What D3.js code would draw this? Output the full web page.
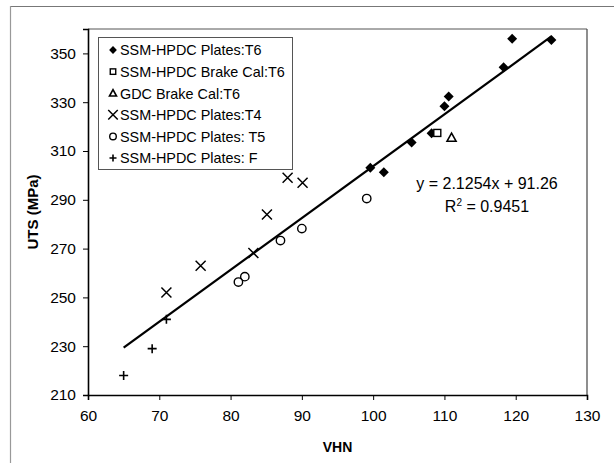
<!DOCTYPE html>
<html><head><meta charset="utf-8">
<script src="https://cdn.jsdelivr.net/npm/d3@7"></script>
<style>body{margin:0;background:#fff}svg{display:block}text{font-family:"Liberation Sans",Arial,sans-serif;fill:#000}</style>
</head><body>
<script>
// ---- data ----
const seriesNames = ["SSM-HPDC Plates:T6","SSM-HPDC Brake Cal:T6","GDC Brake Cal:T6","SSM-HPDC Plates:T4","SSM-HPDC Plates: T5","SSM-HPDC Plates: F"];
const t6PlatesVHN = [119.5, 125.0, 118.3, 110.6, 110.0, 105.4, 99.6, 101.5, 108.2];
const t6PlatesUTS = [356.0, 355.5, 344.3, 332.3, 328.3, 313.5, 303.1, 301.3, 317.3];
const brakeCalT6VHN = [109.0];
const brakeCalT6UTS = [317.4];
const gdcT6VHN = [111.0];
const gdcT6UTS = [315.5];
const t4PlatesVHN = [88.0, 90.1, 85.1, 75.8, 71.0, 83.2];
const t4PlatesUTS = [299.0, 297.0, 284.0, 263.0, 252.0, 268.2];
const t5PlatesVHN = [99.1, 90.0, 87.0, 82.0, 81.1];
const t5PlatesUTS = [290.5, 278.2, 273.3, 258.5, 256.3];
const fPlatesVHN = [65.0, 69.0, 71.0];
const fPlatesUTS = [218.0, 229.0, 241.0];
const trendSlope = 2.1254, trendIntercept = 91.26, trendFrom = 65, trendTo = 125;
const xTicks = [60, 70, 80, 90, 100, 110, 120, 130];
const yTicks = [210, 230, 250, 270, 290, 310, 330, 350];
const eqText = "y = 2.1254x + 91.26";
const r2Value = "0.9451";

const W = 614, H = 463;
const svg = d3.select("body").append("svg").attr("width", W).attr("height", H);

// outer frame (left & top edges)
svg.append("line").attr("x1",10).attr("y1",6.5).attr("x2",W).attr("y2",6.5).attr("stroke","#777").attr("stroke-width",1.2);
svg.append("line").attr("x1",10.5).attr("y1",6).attr("x2",10.5).attr("y2",H).attr("stroke","#999").attr("stroke-width",1.2);

const x = d3.scaleLinear().domain([60,130]).range([88,587]);
const y = d3.scaleLinear().domain([210,360]).range([395,29]);

// plot area top/right borders
svg.append("line").attr("x1",x(60)).attr("x2",x(130)).attr("y1",y(360)).attr("y2",y(360)).attr("stroke","#555").attr("stroke-width",1);
svg.append("line").attr("x1",x(130)).attr("x2",x(130)).attr("y1",y(360)).attr("y2",y(210)).attr("stroke","#444").attr("stroke-width",1.2);

// axes
const xAxis = svg.append("g").attr("transform",`translate(0,${y(210)})`)
  .call(d3.axisBottom(x).tickValues(xTicks).tickSize(5).tickPadding(10).tickFormat(d3.format("d")));
const yAxis = svg.append("g").attr("transform",`translate(${x(60)},0)`)
  .call(d3.axisLeft(y).tickValues(yTicks).tickSize(5).tickPadding(7).tickFormat(d3.format("d")));
[xAxis,yAxis].forEach(g=>{
  g.select(".domain").attr("stroke","#000").attr("stroke-width",1.6);
  g.selectAll(".tick line").attr("stroke","#000").attr("stroke-width",1);
  g.selectAll(".tick text").attr("font-size",15.5).attr("font-family","Liberation Sans, Arial, sans-serif");
});

svg.append("text").attr("x",(x(60)+x(130))/2).attr("y",452).attr("text-anchor","middle")
  .attr("font-size",14).attr("font-weight","bold").text("VHN");
svg.append("text").attr("transform",`translate(38,${(y(210)+y(360))/2}) rotate(-90)`).attr("text-anchor","middle")
  .attr("font-size",15).attr("font-weight","bold").text("UTS (MPa)");

// trend line
svg.append("line")
  .attr("x1",x(trendFrom)).attr("y1",y(trendSlope*trendFrom+trendIntercept))
  .attr("x2",x(trendTo)).attr("y2",y(trendSlope*trendTo+trendIntercept))
  .attr("stroke","#000").attr("stroke-width",2.2);

// marker drawers
function drawMarker(g, type, cx, cy, k){
  k = k || 1;
  if(type==="diamond"){
    const r=5*k;
    g.append("path").attr("d",`M${cx},${cy-r}L${cx+r},${cy}L${cx},${cy+r}L${cx-r},${cy}Z`).attr("fill","#000");
  } else if(type==="square"){
    const r=3.5*k;
    g.append("rect").attr("x",cx-r).attr("y",cy-r).attr("width",2*r).attr("height",2*r).attr("fill","#fff").attr("stroke","#000").attr("stroke-width",1.4);
  } else if(type==="triangle"){
    const r=4.5*k;
    g.append("path").attr("d",`M${cx},${cy-r}L${cx+r},${cy+r*0.8}L${cx-r},${cy+r*0.8}Z`).attr("fill","#fff").attr("stroke","#000").attr("stroke-width",1.6);
  } else if(type==="cross"){
    const r=5*k;
    g.append("path").attr("d",`M${cx-r},${cy-r}L${cx+r},${cy+r}M${cx-r},${cy+r}L${cx+r},${cy-r}`).attr("stroke","#000").attr("stroke-width",1.5).attr("fill","none");
  } else if(type==="circle"){
    g.append("circle").attr("cx",cx).attr("cy",cy).attr("r",4.2*k).attr("fill","none").attr("stroke","#000").attr("stroke-width",1.4);
  } else if(type==="plus"){
    const r=4.5*k;
    g.append("path").attr("d",`M${cx-r},${cy}L${cx+r},${cy}M${cx},${cy-r}L${cx},${cy+r}`).attr("stroke","#000").attr("stroke-width",1.6).attr("fill","none");
  }
}

const series = [
  {name:seriesNames[0], type:"diamond", xs:t6PlatesVHN, ys:t6PlatesUTS},
  {name:seriesNames[1], type:"square", xs:brakeCalT6VHN, ys:brakeCalT6UTS},
  {name:seriesNames[2], type:"triangle", xs:gdcT6VHN, ys:gdcT6UTS},
  {name:seriesNames[3], type:"cross", xs:t4PlatesVHN, ys:t4PlatesUTS},
  {name:seriesNames[4], type:"circle", xs:t5PlatesVHN, ys:t5PlatesUTS},
  {name:seriesNames[5], type:"plus", xs:fPlatesVHN, ys:fPlatesUTS}
];
const pts = svg.append("g");
series.forEach(s=>{
  s.xs.forEach((v,i)=>drawMarker(pts, s.type, x(v), y(s.ys[i])));
});

// legend
const lg = svg.append("g");
lg.append("rect").attr("x",98.5).attr("y",37.5).attr("width",194).attr("height",132)
  .attr("fill","#fff").attr("stroke","#555").attr("stroke-width",1);
series.forEach((s,i)=>{
  const cy = 50 + i*21.6;
  drawMarker(lg, s.type, 113, cy, s.type==="cross" ? 0.95 : 0.78);
  lg.append("text").attr("x",120).attr("y",cy+5.3).attr("font-size",14.4).text(s.name);
});

// equation
svg.append("text").attr("x",487).attr("y",188.5).attr("text-anchor","middle").attr("font-size",16).text(eqText);
const r2 = svg.append("text").attr("x",487).attr("y",211.5).attr("text-anchor","middle").attr("font-size",16);
r2.append("tspan").text("R");
r2.append("tspan").attr("dy",-6).attr("font-size",10).text("2");
r2.append("tspan").attr("dy",6).text(" = " + r2Value);
</script>
</body></html>
